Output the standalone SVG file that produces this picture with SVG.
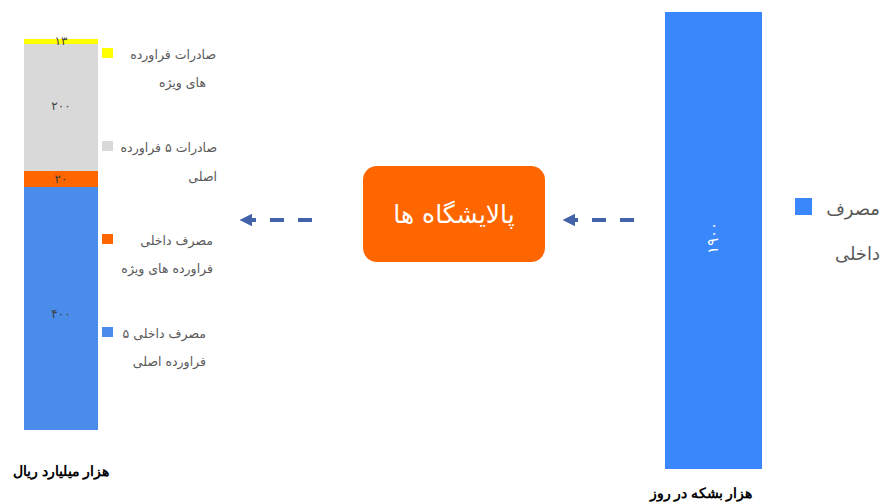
<svg xmlns="http://www.w3.org/2000/svg" width="883" height="504" viewBox="0 0 883 504">
<style>
text{font-family:"DejaVu Sans","Noto Sans",sans-serif;}
.leg{font-size:12.5px;fill:#595959;text-anchor:end;}
.val{font-size:12px;fill:#404040;text-anchor:middle;}
.axis{font-family:"Liberation Serif","DejaVu Serif",serif;font-size:14px;font-weight:bold;fill:#000;text-anchor:middle;}
.conn{stroke:#4262AA;stroke-width:4;stroke-dasharray:14 14;fill:none;}
</style>
<defs>
<marker id="ah" viewBox="0 0 10 10" refX="1" refY="5" markerWidth="3.2" markerHeight="3.2" orient="auto">
<path d="M0,0 L10,5 L0,10 z" fill="#4262AA"/>
</marker>
</defs>
<rect width="883" height="504" fill="#fff"/>
<g id="left-chart">
<rect x="24" y="39" width="74" height="5" fill="#FFFF00"/>
<rect x="24" y="44" width="74" height="127" fill="#D9D9D9"/>
<rect x="24" y="171" width="74" height="16" fill="#FF6600"/>
<rect x="24" y="187" width="74" height="243" fill="#4A8CEA"/>
<text class="val" x="61" y="45">۱۳</text>
<text class="val" x="61" y="110" letter-spacing="3">۲۰۰</text>
<text class="val" x="61" y="183" letter-spacing="3">۲۰</text>
<text class="val" x="61" y="318" letter-spacing="3">۴۰۰</text>
</g>
<g id="left-legend">
<rect x="102" y="48" width="11" height="10" fill="#FFFF00"/>
<text class="leg" x="216" y="59">صادرات فراورده</text>
<text class="leg" x="206" y="87">های ویژه</text>
<rect x="102" y="141" width="11" height="10" fill="#D9D9D9"/>
<text class="leg" x="217" y="152">صادرات ۵ فراورده</text>
<text class="leg" x="217" y="181">اصلی</text>
<rect x="102" y="234" width="11" height="10" fill="#FF6600"/>
<text class="leg" x="213" y="245">مصرف داخلی</text>
<text class="leg" x="213" y="273">فراورده های ویژه</text>
<rect x="102" y="327" width="11" height="10" fill="#4A8CEA"/>
<text class="leg" x="206" y="338">مصرف داخلی ۵</text>
<text class="leg" x="206" y="366">فراورده اصلی</text>
</g>
<g id="left-axis">
<text class="axis" x="61" y="476">هزار میلیارد ریال</text>
</g>
<g id="refinery">
<rect x="363" y="166" width="182" height="96" rx="14" fill="#FF6600"/>
<text x="454" y="223" font-size="25" fill="#fff" text-anchor="middle">پالایشگاه ها</text>
</g>
<g id="right-chart">
<rect x="665" y="12" width="97" height="457" fill="#3A87FC"/>
<text x="0" y="0" font-size="15" fill="#fff" text-anchor="middle" letter-spacing="2" transform="translate(718,238) rotate(-90)">۱۹۰۰</text>
<rect x="795" y="198" width="17" height="17" fill="#3A87FC"/>
<text x="880" y="215" font-size="18" fill="#595959" text-anchor="end">مصرف</text>
<text x="880" y="260" font-size="18" fill="#595959" text-anchor="end">داخلی</text>
<text class="axis" x="701" y="498">هزار بشکه در روز</text>
</g>
<g id="connectors">
<path class="conn" d="M312,220 L251,220" marker-end="url(#ah)"/>
<path class="conn" d="M634,220 L574,220" marker-end="url(#ah)"/>
</g>
</svg>
